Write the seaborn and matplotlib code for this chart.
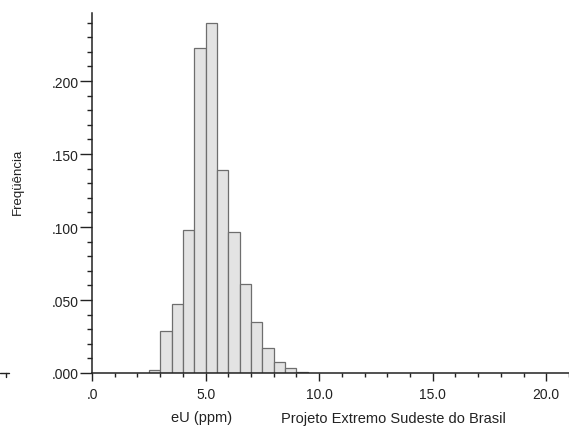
import matplotlib
matplotlib.use("Agg")
import matplotlib.pyplot as plt
from matplotlib.ticker import MultipleLocator
from matplotlib.lines import Line2D
import seaborn as sns

# Data
bin_edges = [2.5, 3.0, 3.5, 4.0, 4.5, 5.0, 5.5, 6.0, 6.5, 7.0, 7.5, 8.0, 8.5, 9.0, 9.5]
bin_centers = [2.75, 3.25, 3.75, 4.25, 4.75, 5.25, 5.75, 6.25, 6.75, 7.25, 7.75, 8.25, 8.75, 9.25]
frequencies = [0.0023, 0.029, 0.0475, 0.0977, 0.2226, 0.240, 0.1393, 0.0968,
               0.0607, 0.0347, 0.0171, 0.0073, 0.0032, 0.0010]
x_ticks = [0, 5, 10, 15, 20]
x_tick_labels = [".0", "5.0", "10.0", "15.0", "20.0"]
y_ticks = [0.0, 0.05, 0.10, 0.15, 0.20]
y_tick_labels = [".000", ".050", ".100", ".150", ".200"]

sns.set_style("ticks")
plt.rcParams["font.family"] = ["Liberation Sans", "DejaVu Sans"]
plt.rcParams["hatch.linewidth"] = 0.3

fig = plt.figure(figsize=(5.69, 4.27), dpi=100)
ax = fig.add_axes([92 / 569, 53 / 427, 477 / 569, 360 / 427])

sns.histplot(x=bin_centers, weights=frequencies, bins=bin_edges, stat="count",
             color="#e3e3e3", edgecolor="#6e6e6e", linewidth=0.9, alpha=1.0,
             ax=ax)
for p in ax.patches:
    if hasattr(p, "set_hatchcolor"):
        p.set_hatch("xxxx")
        p.set_hatchcolor("#d4d4d4")

ax.set_xlim(0, 21)
ax.set_ylim(0, 0.2466)

ax.set_xticks(x_ticks)
ax.set_xticklabels(x_tick_labels)
ax.set_yticks(y_ticks)
ax.set_yticklabels(y_tick_labels)
ax.xaxis.set_minor_locator(MultipleLocator(1.0))
ax.yaxis.set_minor_locator(MultipleLocator(0.01))

ax.tick_params(axis="x", which="major", direction="out", length=5.8, width=1.0,
               color="#222222", labelsize=10, labelcolor="#222222", pad=4)
ax.tick_params(axis="x", which="minor", direction="out", length=3, width=1.0,
               color="#222222")
ax.tick_params(axis="y", which="major", direction="out", length=8.6, width=1.0,
               color="#222222", labelsize=10, labelcolor="#222222", pad=1.2)
ax.tick_params(axis="y", which="minor", direction="out", length=3.6, width=1.0,
               color="#222222")

for side in ["top", "right"]:
    ax.spines[side].set_visible(False)
for side in ["left", "bottom"]:
    ax.spines[side].set_linewidth(1.1)
    ax.spines[side].set_color("#222222")

ax.set_xlabel("")
ax.set_ylabel("")

fig.text(202 / 569, 1 - 418 / 427, "eU (ppm)", ha="center", va="center",
         fontsize=10.5, color="#222222")
fig.text(393 / 569, 1 - 419 / 427, "Projeto Extremo Sudeste do Brasil",
         ha="center", va="center", fontsize=10.5, color="#222222")
fig.text(18 / 569, 1 - 182 / 427, "Freqüência", ha="center", va="center",
         rotation=90, fontsize=9.5, color="#222222")

# small stray axis fragment at left edge of reference
fig.add_artist(Line2D([0, 9 / 569], [1 - 374 / 427, 1 - 374 / 427],
                      transform=fig.transFigure, color="#222222", lw=1.0))
fig.add_artist(Line2D([6 / 569, 6 / 569], [1 - 374 / 427, 1 - 378 / 427],
                      transform=fig.transFigure, color="#222222", lw=1.0))

fig.savefig("out.png", dpi=100)
